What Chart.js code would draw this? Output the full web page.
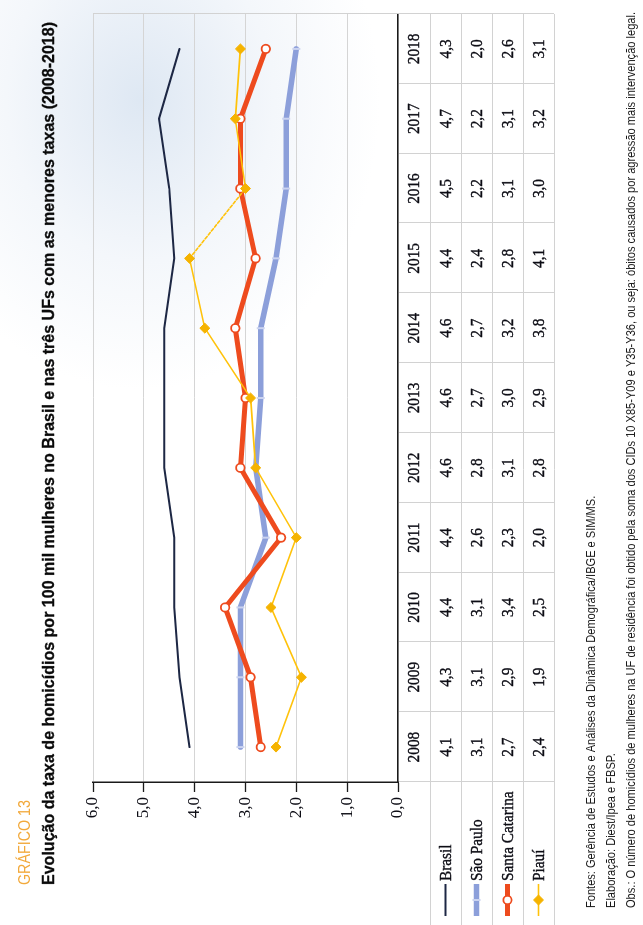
<!DOCTYPE html>
<html lang="pt-BR">
<head>
<meta charset="utf-8">
<title>Gráfico 13 – Taxa de homicídios de mulheres</title>
<script src="https://cdn.jsdelivr.net/npm/chart.js@4.4.1/dist/chart.umd.min.js"></script>
<style>
  html, body { margin: 0; padding: 0; }
  body {
    width: 643px; height: 925px; overflow: hidden; position: relative;
    background:
      radial-gradient(ellipse 240px 290px at 140px 100px, rgba(214,226,240,0.8) 0%, rgba(230,237,246,0.45) 55%, rgba(255,255,255,0) 100%),
      #ffffff;
  }
  /* the page is laid out landscape and turned a quarter turn counter-clockwise */
  #sheet {
    position: absolute; left: 0; top: 0;
    width: 925px; height: 643px;
    transform-origin: 0 0;
    transform: translate(0, 925px) rotate(-90deg);
  }
  canvas { display: block; }
</style>
</head>
<body>
<div id="sheet"><canvas id="chart" width="925" height="643" style="width:925px;height:643px"></canvas></div>
<script>
// Taxa de homicídios por 100 mil mulheres (2008-2018)
const years = ['2008', '2009', '2010', '2011', '2012', '2013', '2014', '2015', '2016', '2017', '2018'];
const brasil        = [4.1, 4.3, 4.4, 4.4, 4.6, 4.6, 4.6, 4.4, 4.5, 4.7, 4.3];
const saoPaulo      = [3.1, 3.1, 3.1, 2.6, 2.8, 2.7, 2.7, 2.4, 2.2, 2.2, 2.0];
const santaCatarina = [2.7, 2.9, 3.4, 2.3, 3.1, 3.0, 3.2, 2.8, 3.1, 3.1, 2.6];
const piaui         = [2.4, 1.9, 2.5, 2.0, 2.8, 2.9, 3.8, 4.1, 3.0, 3.2, 3.1];
const seriesNames   = ['Brasil', 'São Paulo', 'Santa Catarina', 'Piauí'];
const yTicks        = [0, 1, 2, 3, 4, 5, 6];

const chartLabel = 'GRÁFICO 13';
const chartTitle = 'Evolução da taxa de homicídios por 100 mil mulheres no Brasil e nas três UFs com as menores taxas (2008-2018)';
const notes = [
  'Fontes: Gerência de Estudos e Análises da Dinâmica Demográfica/IBGE e SIM/MS.',
  'Elaboração: Diest/Ipea e FBSP.',
  'Obs.: O número de homicídios de mulheres na UF de residência foi obtido pela soma dos CIDs 10 X85-Y09 e Y35-Y36, ou seja: óbitos causados por agressão mais intervenção legal.'
];

const fmt = v => v.toFixed(1).replace('.', ',');

const COLORS = {
  brasil: '#1d2744',
  sp: '#8c9fda',
  spMark: '#cbd3f0',
  sc: '#ee4b1e',
  pi: '#ffc20a',
  piMark: '#f5b300',
  ink: '#0c0c14',
  grid: '#d5d5d5',
  table: '#d2d2d2',
  label: '#f2a93b'
};

const SANS_NARROW = '"Liberation Sans Narrow", "Liberation Sans", Arial, sans-serif';
const SERIF = '"Liberation Serif", "DejaVu Serif", serif';

// text drawn with a horizontal squeeze (condensed faces); optional outline adds weight
function drawText(ctx, s, x, y, font, color, align, sx, baseline, weight) {
  ctx.save();
  ctx.font = font;
  ctx.fillStyle = color;
  ctx.textAlign = align || 'left';
  ctx.textBaseline = baseline || 'alphabetic';
  ctx.translate(x, y);
  ctx.scale(sx, 1);
  ctx.fillText(s, 0, 0);
  if (weight) {
    ctx.strokeStyle = color;
    ctx.lineWidth = weight;
    ctx.lineJoin = 'round';
    ctx.strokeText(s, 0, 0);
  }
  ctx.restore();
}
function fitScale(ctx, s, font, width) {
  ctx.save();
  ctx.font = font;
  const w = ctx.measureText(s).width;
  ctx.restore();
  return width / w;
}

const datasets = [
  {
    label: seriesNames[0], data: brasil, order: 3,
    borderColor: COLORS.brasil, borderWidth: 2,
    pointRadius: 0, tension: 0
  },
  {
    label: seriesNames[1], data: saoPaulo, order: 2,
    borderColor: COLORS.sp, borderWidth: 5.5,
    pointStyle: 'line', pointRotation: 90, pointRadius: 4,
    pointBorderColor: COLORS.spMark, pointBorderWidth: 2, pointBackgroundColor: COLORS.spMark
  },
  {
    label: seriesNames[2], data: santaCatarina, order: 1,
    borderColor: COLORS.sc, borderWidth: 5,
    pointStyle: 'circle', pointRadius: 4.2,
    pointBorderColor: COLORS.sc, pointBorderWidth: 1.8, pointBackgroundColor: '#ffffff'
  },
  {
    label: seriesNames[3], data: piaui, order: 0,
    borderColor: COLORS.pi, borderWidth: 1.6,
    pointStyle: 'rectRot', pointRadius: 5,
    pointBorderColor: COLORS.piMark, pointBorderWidth: 1, pointBackgroundColor: COLORS.piMark,
    // the 2015–2016 link of this series is printed dotted
    segment: { borderDash: c => (years[c.p0DataIndex] === '2015' ? [3, 2] : undefined) }
  }
];

// title block, data table with legend keys, and source notes
const paperPlugin = {
  id: 'paper',
  afterDraw(chart) {
    const ctx = chart.ctx;
    const area = chart.chartArea;
    const xs = chart.scales.x;
    const n = years.length;
    const colW = (xs.right - xs.left) / n;

    // heading
    const fLabel = '17px ' + SANS_NARROW;
    drawText(ctx, chartLabel, 40, 30, fLabel, COLORS.label, 'left', fitScale(ctx, chartLabel, fLabel, 85));
    const fTitle = 'bold 17px ' + SANS_NARROW;
    drawText(ctx, chartTitle, 40, 54, fTitle, '#0a0a0a', 'left', fitScale(ctx, chartTitle, fTitle, 863), 'alphabetic', 0.3);

    // table rules
    const rows = [area.bottom, area.bottom + 32, area.bottom + 63, area.bottom + 94, area.bottom + 125, area.bottom + 156];
    ctx.save();
    ctx.strokeStyle = COLORS.table;
    ctx.lineWidth = 1;
    ctx.beginPath();
    for (let r = 1; r < rows.length; r++) {
      ctx.moveTo(0, rows[r] + 0.5);
      ctx.lineTo(area.right, rows[r] + 0.5);
    }
    for (let i = 0; i <= n; i++) {
      const x = Math.round(xs.left + i * colW) + 0.5;
      ctx.moveTo(x, i === n ? area.top : area.bottom + 1);
      ctx.lineTo(x, rows[rows.length - 1]);
    }
    ctx.stroke();
    ctx.restore();

    // table text
    const fCell = '17px ' + SERIF;
    const seriesData = [brasil, saoPaulo, santaCatarina, piaui];
    years.forEach((y, i) => {
      const cx = xs.getPixelForValue(i);
      drawText(ctx, y, cx, (rows[0] + rows[1]) / 2 + 1, fCell, COLORS.ink, 'center', 0.9, 'middle', 0.35);
      seriesData.forEach((arr, k) => {
        drawText(ctx, fmt(arr[i]), cx, (rows[k + 1] + rows[k + 2]) / 2 + 1, fCell, COLORS.ink, 'center', 0.9, 'middle', 0.35);
      });
    });

    // legend keys in the row headers
    chart.data.datasets.forEach((ds, k) => {
      const cy = (rows[k + 1] + rows[k + 2]) / 2;
      const x0 = 9, x1 = 41, mx = (x0 + x1) / 2;
      ctx.save();
      ctx.strokeStyle = ds.borderColor;
      ctx.lineWidth = ds.borderWidth;
      ctx.beginPath();
      ctx.moveTo(x0, cy);
      ctx.lineTo(x1, cy);
      ctx.stroke();
      ctx.restore();
      if (ds.pointRadius > 0) {
        ctx.save();
        ctx.fillStyle = ds.pointBackgroundColor;
        ctx.strokeStyle = ds.pointBorderColor;
        ctx.lineWidth = ds.pointBorderWidth;
        Chart.helpers.drawPoint(ctx, {
          pointStyle: ds.pointStyle,
          rotation: ds.pointRotation || 0,
          radius: ds.pointRadius,
          borderWidth: ds.pointBorderWidth
        }, mx, cy);
        ctx.restore();
      }
      drawText(ctx, ds.label, 44, cy + 1, fCell, COLORS.ink, 'left', 0.9, 'middle', 0.35);
    });

    // notes
    const fNote = '12.5px ' + SANS_NARROW;
    const sNote = fitScale(ctx, notes[2], fNote, 896);
    drawText(ctx, notes[0], 17, 595, fNote, '#1a1a1a', 'left', sNote);
    drawText(ctx, notes[1], 17, 615, fNote, '#1a1a1a', 'left', sNote);
    drawText(ctx, notes[2], 17, 635, fNote, '#1a1a1a', 'left', sNote);
  }
};

new Chart(document.getElementById('chart'), {
  type: 'line',
  data: { labels: years, datasets },
  plugins: [paperPlugin],
  options: {
    responsive: false,
    animation: false,
    devicePixelRatio: 1,
    layout: { padding: { left: 0, right: 14, top: 93, bottom: 0 } },
    plugins: { legend: { display: false }, tooltip: { enabled: false } },
    elements: { line: { borderJoinStyle: 'round', borderCapStyle: 'round' } },
    scales: {
      x: {
        type: 'category',
        offset: true,
        ticks: { display: false },
        grid: { display: false, drawTicks: false },
        border: { display: true, color: '#1a1a1a', width: 1.5 },
        afterFit: s => { s.height = 245; }
      },
      y: {
        min: yTicks[0],
        max: yTicks[yTicks.length - 1],
        afterBuildTicks: s => { s.ticks = yTicks.map(v => ({ value: v })); },
        ticks: {
          callback: v => fmt(v),
          font: { family: SERIF, size: 17 },
          color: COLORS.ink,
          padding: 5
        },
        grid: { color: COLORS.grid, lineWidth: 1, tickLength: 10, tickColor: '#1a1a1a', tickWidth: 1.3 },
        border: { display: true, color: '#1a1a1a', width: 1.5 },
        afterFit: s => { s.width = 143; }
      }
    }
  }
});
</script>
</body>
</html>
